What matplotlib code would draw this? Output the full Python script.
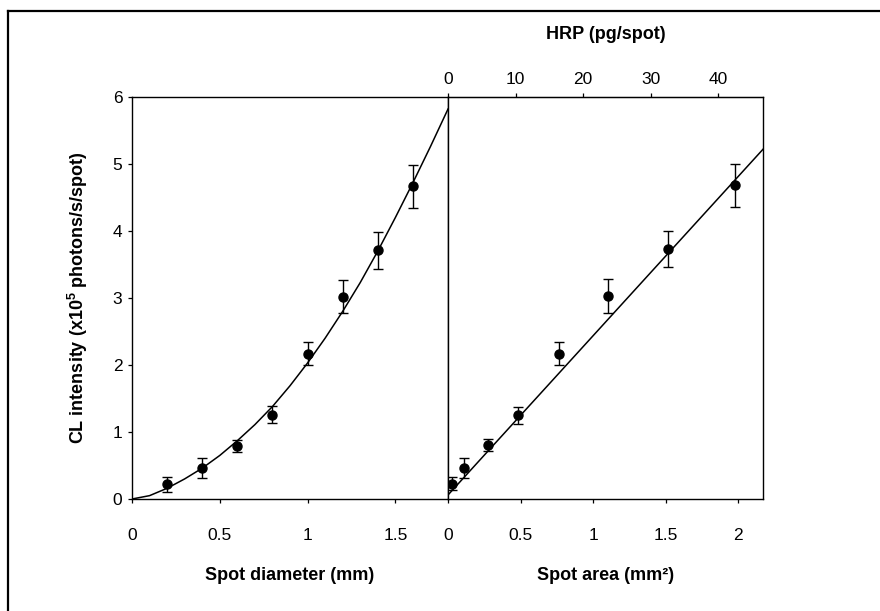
import matplotlib
matplotlib.use("Agg")
import matplotlib.pyplot as plt
from matplotlib.lines import Line2D

plt.rcParams['font.family'] = ['Liberation Sans', 'DejaVu Sans']
plt.rcParams['mathtext.fontset'] = 'custom'
plt.rcParams['mathtext.rm'] = 'Liberation Sans'
plt.rcParams['mathtext.bf'] = 'Liberation Sans:bold'

# data
diameter = [0.2, 0.4, 0.6, 0.8, 1.0, 1.2, 1.4, 1.6]
cl_left = [0.22, 0.46, 0.79, 1.26, 2.17, 3.02, 3.71, 4.67]
err_left = [0.11, 0.15, 0.09, 0.13, 0.17, 0.25, 0.27, 0.32]

area = [0.026, 0.113, 0.274, 0.485, 0.766, 1.105, 1.515, 1.975]
cl_right = [0.23, 0.46, 0.80, 1.25, 2.17, 3.03, 3.73, 4.68]
err_right = [0.10, 0.15, 0.09, 0.13, 0.17, 0.25, 0.27, 0.32]

# fitted curves, points
fit_d = [0.0, 0.1, 0.2, 0.3, 0.4, 0.5, 0.6, 0.7, 0.8, 0.9, 1.0,
         1.1, 1.2, 1.3, 1.4, 1.5, 1.6, 1.7, 1.8]
fit_d_y = [0.0, 0.05, 0.16, 0.30, 0.46, 0.65, 0.87, 1.11, 1.38, 1.69, 2.03,
           2.40, 2.80, 3.23, 3.70, 4.20, 4.72, 5.26, 5.82]
fit_a = [0.0, 2.17]
fit_a_y = [0.06, 5.22]

pg_per_mm2 = 21.5

fig = plt.figure(figsize=(8.8, 6.11), dpi=100)
ax1 = fig.add_axes([132/880, 112/611, 316/880, 402/611])
ax2 = fig.add_axes([448/880, 112/611, 315/880, 402/611])

kw = dict(fmt='o', color='black', ms=6.5, capsize=3.5, elinewidth=1.0, capthick=1.0)
ax1.errorbar(diameter, cl_left, yerr=err_left, **kw)
ax1.plot(fit_d, fit_d_y, color='black', lw=1.1)
ax2.errorbar(area, cl_right, yerr=err_right, **kw)
ax2.plot(fit_a, fit_a_y, color='black', lw=1.1)

for ax in (ax1, ax2):
    ax.set_ylim(0, 6)
    for s in ax.spines.values():
        s.set_linewidth(1.0)
    ax.tick_params(direction='out', length=3, width=0.9, labelsize=12.5, pad=18)

ax1.set_xlim(0, 1.8)
ax1.set_xticks([0, 0.5, 1, 1.5])
ax1.set_xticklabels(['0', '0.5', '1', '1.5'])
ax1.set_yticks([0, 1, 2, 3, 4, 5, 6])
ax1.tick_params(axis='y', pad=4)
ax1.set_xlabel('Spot diameter (mm)', fontsize=13, fontweight='bold', labelpad=17)
ax1.set_ylabel(r'CL intensity (x10$^{\mathbf{5}}$ photons/s/spot)',
               fontsize=13, fontweight='bold', labelpad=16)

ax2.set_xlim(0, 2.17)
ax2.set_xticks([0, 0.5, 1, 1.5, 2])
ax2.set_xticklabels(['0', '0.5', '1', '1.5', '2'])
ax2.set_yticks([])
ax2.set_xlabel('Spot area (mm²)', fontsize=13, fontweight='bold', labelpad=17)

top = ax2.secondary_xaxis('top', functions=(lambda a: a * pg_per_mm2, lambda p: p / pg_per_mm2))
top.set_xticks([0, 10, 20, 30, 40])
top.tick_params(direction='out', length=3, width=0.9, labelsize=12.5, pad=4)
top.set_xlabel('HRP (pg/spot)', fontsize=13, fontweight='bold', labelpad=24)

# page frame (top and left edges)
fig.add_artist(Line2D([8/880, 1.0], [1 - 10.5/611, 1 - 10.5/611], color='black', lw=1.6,
                      transform=fig.transFigure))
fig.add_artist(Line2D([8/880, 8/880], [0.0, 1 - 10.5/611], color='black', lw=1.6,
                      transform=fig.transFigure))

fig.savefig('out.png', dpi=100)
